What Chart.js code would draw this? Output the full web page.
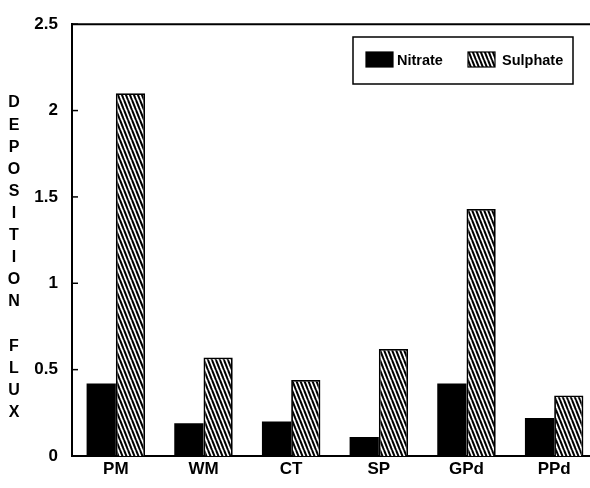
<!DOCTYPE html>
<html>
<head>
<meta charset="utf-8">
<script src="https://cdn.jsdelivr.net/npm/chart.js@4/dist/chart.umd.min.js"></script>
<style>
  html, body { margin: 0; padding: 0; background: #fff; overflow: hidden; }
  #wrap { width: 598px; height: 488px; }
</style>
</head>
<body>
<div id="wrap"><canvas id="c" width="598" height="488"></canvas></div>
<script>
// Site categories and deposition values
const categories = ['PM', 'WM', 'CT', 'SP', 'GPd', 'PPd'];
const nitrate    = [0.42, 0.19, 0.20, 0.11, 0.42, 0.22];
const sulphate   = [2.10, 0.57, 0.44, 0.62, 1.43, 0.35];
const yTicks     = [0, 0.5, 1, 1.5, 2, 2.5];
const seriesNames = ['Nitrate', 'Sulphate'];
const axisTitle  = 'DEPOSITION FLUX';

const FONT = "'Liberation Sans', Arial, Helvetica, sans-serif";

// Diagonal hatch fill for the sulphate bars
function makeHatch() {
  const w = 4, h = 10;
  const t = document.createElement('canvas');
  t.width = w; t.height = h;
  const g = t.getContext('2d');
  g.fillStyle = '#fff';
  g.fillRect(0, 0, w, h);
  g.strokeStyle = '#000';
  g.lineWidth = 2;
  for (let k = -1; k <= 1; k++) {
    g.beginPath();
    g.moveTo(k * w, 0);
    g.lineTo(k * w + w, h);
    g.stroke();
  }
  return document.getElementById('c').getContext('2d').createPattern(t, 'repeat');
}
const hatch = makeHatch();

// Top frame line, inward tick marks, stacked axis title and boxed legend
const decorations = {
  id: 'decorations',
  afterDraw(chart) {
    const ctx = chart.ctx;
    const area = chart.chartArea;
    const yScale = chart.scales.y;
    ctx.save();
    ctx.strokeStyle = '#000';
    ctx.lineWidth = 2;
    ctx.beginPath();
    ctx.moveTo(area.left - 1, area.top);
    ctx.lineTo(chart.width, area.top);
    ctx.stroke();

    ctx.lineWidth = 1.5;
    yScale.ticks.forEach(t => {
      const y = yScale.getPixelForValue(t.value);
      ctx.beginPath();
      ctx.moveTo(area.left, y);
      ctx.lineTo(area.left + 6, y);
      ctx.stroke();
    });

    ctx.fillStyle = '#000';
    ctx.font = 'bold 16px ' + FONT;
    ctx.textAlign = 'center';
    ctx.textBaseline = 'middle';
    const chars = axisTitle.split('');
    chars.forEach((ch, i) => {
      if (ch !== ' ') ctx.fillText(ch, 14, 103 + i * 22.1);
    });

    // legend box
    const bx = 353, by = 37, bw = 220, bh = 47;
    ctx.lineWidth = 1.5;
    ctx.strokeRect(bx, by, bw, bh);
    const items = [
      { x: 366, textX: 397 },
      { x: 468, textX: 502 }
    ];
    ctx.font = 'bold 14.5px ' + FONT;
    ctx.textAlign = 'left';
    chart.data.datasets.forEach((ds, i) => {
      const it = items[i];
      ctx.fillStyle = ds.backgroundColor;
      ctx.fillRect(it.x, 52, 27, 15);
      ctx.lineWidth = 1.2;
      ctx.strokeRect(it.x, 52, 27, 15);
      ctx.fillStyle = '#000';
      ctx.fillText(ds.label, it.textX, 61);
    });
    ctx.restore();
  }
};

new Chart(document.getElementById('c'), {
  type: 'bar',
  data: {
    labels: categories,
    datasets: [
      {
        label: seriesNames[0],
        data: nitrate,
        backgroundColor: '#000',
        borderColor: '#000',
        borderWidth: 0
      },
      {
        label: seriesNames[1],
        data: sulphate,
        backgroundColor: hatch,
        borderColor: '#000',
        borderWidth: 1.8,
        borderSkipped: 'bottom'
      }
    ]
  },
  options: {
    responsive: false,
    animation: false,
    devicePixelRatio: 1,
    datasets: {
      bar: { categoryPercentage: 0.667, barPercentage: 1.0 }
    },
    layout: { padding: { top: 13, left: 0, right: 0, bottom: 0 } },
    plugins: {
      legend: { display: false },
      tooltip: { enabled: false }
    },
    scales: {
      x: {
        grid: { display: false, drawTicks: false },
        border: { display: true, color: '#000', width: 2 },
        ticks: {
          color: '#000',
          padding: 3,
          font: { family: FONT, size: 17, weight: 'bold' }
        },
        afterFit(s) { s.height = 32; }
      },
      y: {
        min: 0,
        max: 2.5,
        grid: { display: false, drawTicks: false },
        border: { display: true, color: '#000', width: 2 },
        afterBuildTicks(s) { s.ticks = yTicks.map(v => ({ value: v })); },
        ticks: {
          color: '#000',
          padding: 14,
          font: { family: FONT, size: 17, weight: 'bold' },
          callback: v => String(v)
        },
        afterFit(s) { s.width = 72; }
      }
    }
  },
  plugins: [decorations]
});
</script>
</body>
</html>
